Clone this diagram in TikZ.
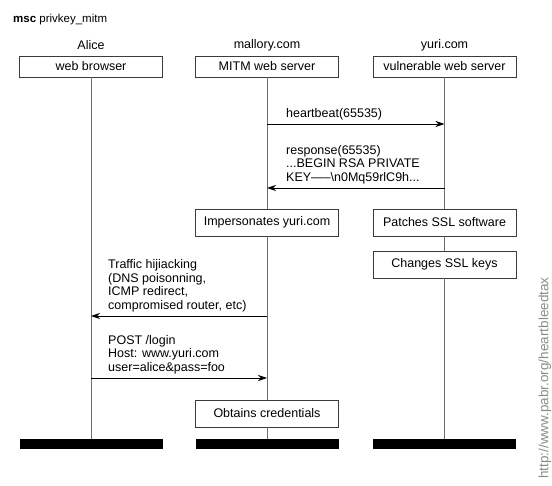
\documentclass[tikz,border=0pt]{standalone}
\usepackage{fontspec}
\setmainfont{Liberation Sans}
\usetikzlibrary{arrows.meta}
\definecolor{boxgray}{HTML}{3C3C3C}
\definecolor{linegray}{HTML}{6E6E6E}
\definecolor{urlgray}{HTML}{8C8C8C}
\begin{document}
\begin{tikzpicture}[x=1pt,y=-1pt,
  every node/.style={font=\fontsize{12.5}{13.8}\selectfont},
  inst/.style={draw=boxgray, line width=0.9pt, fill=white, minimum width=143pt, minimum height=21pt, inner sep=0pt},
  act/.style={inst, minimum height=27pt},
  endbar/.style={fill=black, minimum width=143pt, minimum height=10pt, inner sep=0pt},
  life/.style={draw=linegray, line width=0.9pt},
  msg/.style={draw=black, line width=0.8pt, -{Stealth[length=9pt,width=6pt]}},
  lbl/.style={anchor=south west, inner sep=0pt, align=left},
]
\fill[white] (0,0) rectangle (552,486);
\useasboundingbox (0,0) rectangle (552,486);

% title
\node[anchor=west, inner sep=0pt, font=\fontsize{11.5}{13}\selectfont] (title) at (13,20) {\textbf{msc} privkey\_mitm};

% instance names
\node (nA) at (91,45) {Alice};
\node (nM) at (267,45) {mallory.com};
\node (nY) at (444.5,45) {yuri.com};

% heads
\node[inst] (hA) at (91,66.5) {web browser};
\node[inst] (hM) at (267,66.5) {MITM web server};
\node[inst] (hY) at (444.5,66.5) {vulnerable web server};

% actions
\node[act] (imp) at (267,222.5) {Impersonates yuri.com};
\node[act] (pat) at (444.5,222.5) {Patches SSL software};
\node[act] (chg) at (444.5,264.5) {Changes SSL keys};
\node[act] (obt) at (267,413.5) {Obtains credentials};

% end bars
\node[endbar] (bA) at (91,444) {};
\node[endbar] (bM) at (267,444) {};
\node[endbar] (bY) at (444.5,444) {};

% lifelines
\draw[life] (hA.south) -- (bA.north);
\draw[life] (hM.south) -- (imp.north);
\draw[life] (imp.south) -- (obt.north);
\draw[life] (obt.south) -- (bM.north);
\draw[life] (hY.south) -- (pat.north);
\draw[life] (pat.south) -- (chg.north);
\draw[life] (chg.south) -- (bY.north);

% message end points
\coordinate (hbS) at (267,124);
\coordinate (hbE) at (444.5,124);
\coordinate (rsS) at (444.5,188);
\coordinate (rsE) at (267,188);
\coordinate (thS) at (267,316);
\coordinate (thE) at (91,316);
\coordinate (poS) at (91,378);
\coordinate (poE) at (267,378);

% messages
\draw[msg] (hbS) -- (hbE);
\draw[msg] (rsS) -- (rsE);
\draw[msg] (thS) -- (thE);
\draw[msg] (poS) -- (poE);

% labels
\node[lbl] (lhb) at (286,120.5) {heartbeat(65535)};
\node[lbl] (lrs) at (286,184.5) {response(65535)\\...BEGIN RSA PRIVATE\\KEY-----\textbackslash n0Mq59rlC9h...};
\node[lbl] (lth) at (108,312.5) {Traffic hijiacking\\(DNS poisonning,\\ICMP redirect,\\compromised router, etc)};
\node[lbl] (lpo) at (108,374.5) {POST /login\\Host: www.yuri.com\\user=alice\&pass=foo};

% url
\node[rotate=90, text=urlgray, inner sep=0pt, font=\fontsize{13.5}{15}\selectfont] (url) at (545,378) {http://www.pabr.org/heartbleedtax};
\end{tikzpicture}
\end{document}
